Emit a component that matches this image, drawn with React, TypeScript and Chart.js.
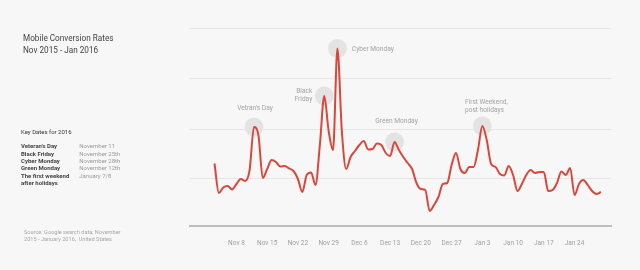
import React, { useEffect, useRef } from "react";
import { Chart, registerables } from "chart.js";

Chart.register(...registerables);

// Daily mobile conversion index (one value per day)
const dayValues: number[] = [
  1.31, 0.72, 0.83, 0.86, 0.79, 0.9, 1.0, 0.96, 1.18, 2.04,
  1.88, 1.02, 1.2, 1.38, 1.34, 1.25, 1.26, 1.21, 1.16, 1.0,
  0.74, 1.08, 1.13, 0.88, 1.68, 2.66, 1.96, 1.58, 3.61, 1.96,
  1.2, 1.44, 1.56, 1.68, 1.76, 1.59, 1.6, 1.71, 1.68, 1.52,
  1.46, 1.74, 1.58, 1.44, 1.32, 1.2, 0.92, 0.8, 0.78, 0.36,
  0.48, 0.64, 0.9, 0.92, 1.28, 1.52, 1.2, 1.12, 1.24, 1.24,
  1.58, 2.06, 1.78, 1.3, 1.24, 1.1, 1.07, 1.26, 1.08, 0.76,
  0.9, 1.08, 1.18, 1.12, 1.14, 1.14, 0.76, 0.78, 0.92, 1.15,
  1.08, 1.22, 0.68, 0.9, 0.98, 0.88, 0.76, 0.7, 0.74,
];

const tickIndices: number[] = [5, 12, 19, 26, 33, 40, 47, 54, 61, 68, 75, 82];
const tickLabels: string[] = [
  "Nov 8", "Nov 15", "Nov 22", "Nov 29", "Dec 6", "Dec 13",
  "Dec 20", "Dec 27", "Jan 3", "Jan 10", "Jan 17", "Jan 24",
];
const gridValues: number[] = [1, 2, 3, 4];

const annotationIndices: number[] = [9, 25, 28, 41, 61];
const annotationTexts: string[][] = [
  ["Vetran's Day"],
  ["Black", "Friday"],
  ["Cyber Monday"],
  ["Green Monday"],
  ["First Weekend,", "post holidays"],
];

const keyDateNames: string[] = ["Veteran's Day", "Black Friday", "Cyber Monday", "Green Monday", "The first weekend", "after holidays"];
const keyDateValues: string[] = ["November 11", "November 25th", "November 28th", "November 12th", "January 7/8", ""];

// label placement styles (pixel offsets relative to the point)
const annotationStyle = [
  { align: "center", dx: 1, dy: [-18.5] },
  { align: "right", dx: -12, dy: [-5, 3.3] },
  { align: "left", dx: 14.4, dy: [0.7] },
  { align: "center", dx: 2, dy: [-20.7] },
  { align: "left", dx: -17.4, dy: [-23.7, -15.3] },
];

const annotationPlugin = {
  id: "peakAnnotations",
  beforeDatasetsDraw(chart: any) {
    const meta = chart.getDatasetMeta(0);
    const ctx = chart.ctx;
    ctx.save();
    ctx.fillStyle = "#e3e3e3";
    annotationIndices.forEach((idx) => {
      const p = meta.data[idx];
      ctx.beginPath();
      ctx.arc(p.x, p.y, 9.4, 0, Math.PI * 2);
      ctx.fill();
    });
    ctx.restore();
  },
  afterDatasetsDraw(chart: any) {
    const meta = chart.getDatasetMeta(0);
    const ctx = chart.ctx;
    ctx.save();
    ctx.fillStyle = "#a3a3a3";
    ctx.font = "6.6px Roboto";
    ctx.textBaseline = "middle";
    annotationIndices.forEach((idx, k) => {
      const p = meta.data[idx];
      const st = annotationStyle[k];
      ctx.textAlign = st.align;
      annotationTexts[k].forEach((line, j) => {
        ctx.fillText(line, p.x + st.dx, p.y + st.dy[j]);
      });
    });
    ctx.restore();
  },
};

export default function App() {
  const canvasRef = useRef<HTMLCanvasElement | null>(null);

  useEffect(() => {
    document.body.style.margin = "0";
    const canvas = canvasRef.current;
    if (!canvas) return;
    const chart = new Chart(canvas, {
      type: "line",
      data: {
        datasets: [
          {
            data: dayValues.map((v, i) => ({ x: i, y: v })),
            borderColor: "#d9473b",
            borderWidth: 2,
            pointRadius: 0,
            cubicInterpolationMode: "monotone",
            fill: false,
          },
        ],
      },
      options: {
        animation: false,
        responsive: false,
        devicePixelRatio: 1,
        layout: { padding: { left: 189.5, right: 29, top: 28, bottom: 9.1 } },
        plugins: { legend: { display: false }, tooltip: { enabled: false } },
        scales: {
          x: {
            type: "linear",
            min: -5.69,
            max: 90.3,
            afterBuildTicks: (s: any) => {
              s.ticks = tickIndices.map((v) => ({ value: v }));
            },
            ticks: {
              autoSkip: false,
              maxRotation: 0,
              font: { family: "Roboto", size: 6.5 },
              color: "#a0a0a0",
              padding: 13.7,
              callback: (v: any) => {
                const k = tickIndices.indexOf(Number(v));
                return k >= 0 ? tickLabels[k] : "";
              },
            },
            grid: { display: true, color: "rgba(0,0,0,0)", drawTicks: false },
            border: { display: true, color: "#bdbdbd", width: 2 },
          },
          y: {
            min: 0.066,
            max: 4.02,
            afterBuildTicks: (s: any) => {
              s.ticks = gridValues.map((v) => ({ value: v }));
            },
            ticks: { display: false },
            grid: { color: "#e6e6e6", lineWidth: 1, drawTicks: false },
            border: { display: false },
          },
        },
      },
      plugins: [annotationPlugin],
    } as any);
    return () => chart.destroy();
  }, []);

  const txt: React.CSSProperties = { position: "absolute", fontFamily: "Roboto", whiteSpace: "nowrap" };

  return (
    <div style={{ position: "absolute", left: 0, top: 0, width: 640, height: 270, background: "#f7f7f7", overflow: "hidden" }}>
      <canvas ref={canvasRef} width={640} height={270} style={{ position: "absolute", left: 0, top: 0, width: 640, height: 270 }} />
      <div style={{ ...txt, left: 23, top: 33, fontSize: 8.2, lineHeight: "11.7px", color: "#444" }}>
        <div>Mobile Conversion Rates</div>
        <div>Nov 2015 - Jan 2016</div>
      </div>
      <div style={{ ...txt, left: 21, top: 128, fontSize: 6, lineHeight: "7.4px", color: "#333" }}>Key Dates for 2016</div>
      {keyDateNames.map((name, i) => (
        <React.Fragment key={i}>
          <div style={{ ...txt, left: 21, top: 142.3 + i * 7.35, fontSize: 6, lineHeight: "7.4px", color: "#444", fontWeight: 700 }}>{name}</div>
          <div style={{ ...txt, left: 79.3, top: 142.3 + i * 7.35, fontSize: 6, lineHeight: "7.4px", color: "#9a9a9a" }}>{keyDateValues[i]}</div>
        </React.Fragment>
      ))}
      <div style={{ ...txt, left: 24, top: 229, fontSize: 5.6, lineHeight: "6.7px", color: "#a8a8a8" }}>
        <div>Source: Google search data, November</div>
        <div>2015 - January 2016,&nbsp; United States</div>
      </div>
    </div>
  );
}
